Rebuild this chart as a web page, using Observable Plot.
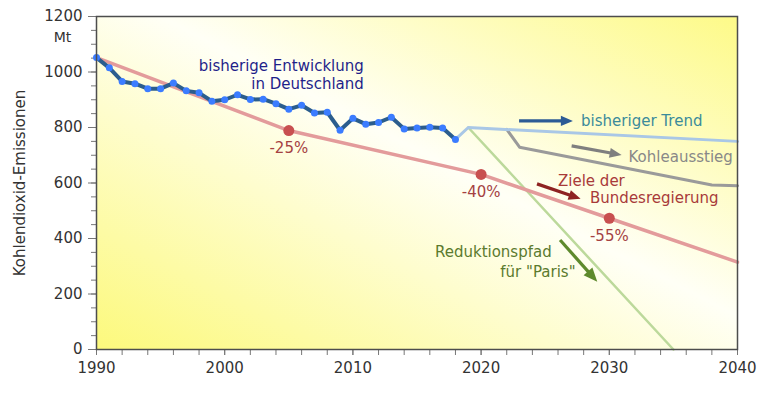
<!DOCTYPE html>
<html>
<head>
<meta charset="utf-8">
<script src="https://cdn.jsdelivr.net/npm/d3@7"></script>
<script src="https://cdn.jsdelivr.net/npm/@observablehq/plot@0.6"></script>
<style>
  html, body { margin: 0; padding: 0; background: #fff; }
</style>
</head>
<body>
<div id="chart"></div>
<script>
// historical CO2 emissions Germany (Mt)
const histYears = [1990,1991,1992,1993,1994,1995,1996,1997,1998,1999,2000,2001,2002,2003,2004,2005,2006,2007,2008,2009,2010,2011,2012,2013,2014,2015,2016,2017,2018];
const histValues = [1052,1015,966,958,940,940,960,932,925,895,900,918,901,902,886,866,880,852,855,790,833,812,818,837,795,798,801,798,757];

// targets of the federal government
const targetYears = [1990, 2005, 2020, 2030, 2040];
const targetValues = [1052, 789, 631, 473, 315];
const goalYears = [2005, 2020, 2030];
const goalValues = [789, 631, 473];
const goalLabels = ["-25%", "-40%", "-55%"];

// previous trend
const trendYears = [2018, 2019, 2040];
const trendValues = [757, 800, 750];

// coal exit
const coalYears = [2022, 2023, 2038, 2040];
const coalValues = [793, 729, 593, 590];

// Paris reduction path
const parisYears = [2019, 2035];
const parisValues = [800, 0];

// axis ticks
const xTickLabels = [1990, 2000, 2010, 2020, 2030, 2040];
const yTickLabels = [0, 200, 400, 600, 800, 1000, 1200];

const zip = (xs, ys) => xs.map((x, i) => ({x, y: ys[i]}));
const hist = zip(histYears, histValues);
const target = zip(targetYears, targetValues);
const goals = goalYears.map((x, i) => ({x, y: goalValues[i], label: goalLabels[i]}));
const trend = zip(trendYears, trendValues);
const coal = zip(coalYears, coalValues);
const paris = zip(parisYears, parisValues);

// annotation texts (data coordinates)
const notes = [
  {x: 2010.85, y: 1022, text: "bisherige Entwicklung", fill: "#1f1f8a", anchor: "end"},
  {x: 2010.85, y: 955, text: "in Deutschland", fill: "#1f1f8a", anchor: "end"},
  {x: 2027.8, y: 822, text: "bisheriger Trend", fill: "#3b8b9b", anchor: "start"},
  {x: 2031.5, y: 692, text: "Kohleausstieg", fill: "#888888", anchor: "start"},
  {x: 2026.0, y: 605, text: "Ziele der", fill: "#a83a3a", anchor: "start"},
  {x: 2028.5, y: 544, text: "Bundesregierung", fill: "#a83a3a", anchor: "start"},
  {x: 2016.4, y: 350, text: "Reduktionspfad", fill: "#5b7a2e", anchor: "start"},
  {x: 2021.5, y: 277, text: "für \"Paris\"", fill: "#5b7a2e", anchor: "start"}
];
const arrows = [
  {x1: 2023.0, y1: 822, x2: 2027.2, y2: 822, stroke: "#2c5b95", head: 12},
  {x1: 2027.1, y1: 732, x2: 2031.0, y2: 699, stroke: "#7f7f7f", head: 12},
  {x1: 2024.4, y1: 595, x2: 2027.8, y2: 541, stroke: "#8e2222", head: 12},
  {x1: 2026.2, y1: 393, x2: 2029.1, y2: 242, stroke: "#5e8a2c", head: 14}
];

// render function mark: arrows with filled heads, positioned via the plot's scales
function filledArrows(index, scales) {
  const g = d3.create("svg:g");
  for (const a of arrows) {
    const x1 = scales.x(a.x1), y1 = scales.y(a.y1);
    const x2 = scales.x(a.x2), y2 = scales.y(a.y2);
    const ang = Math.atan2(y2 - y1, x2 - x1);
    const c = Math.cos(ang), s = Math.sin(ang);
    const hl = a.head, hw = a.head * 0.42;
    const bx = x2 - hl * c, by = y2 - hl * s;
    g.append("line")
      .attr("x1", x1).attr("y1", y1).attr("x2", bx + c).attr("y2", by + s)
      .attr("stroke", a.stroke).attr("stroke-width", 3.2);
    g.append("path")
      .attr("d", `M${x2},${y2}L${bx - hw * s},${by + hw * c}L${bx + hw * s},${by - hw * c}Z`)
      .attr("fill", a.stroke);
  }
  return g.node();
}

const chart = Plot.plot({
  width: 780,
  height: 398,
  marginLeft: 96,
  marginRight: 43,
  marginTop: 16,
  marginBottom: 49,
  style: {fontFamily: "DejaVu Sans, Verdana, sans-serif", fontSize: "15px", background: "white", color: "#333"},
  x: {domain: [1990, 2040], label: null},
  y: {domain: [0, 1200], label: null},
  marks: [
    Plot.frame({fill: "url(#bgGrad)"}),
    // minor ticks
    Plot.axisY({ticks: d3.range(0, 1201, 50), tickSize: 5, text: null, label: null, stroke: "#777"}),
    Plot.axisY({ticks: yTickLabels, tickSize: 8, tickPadding: 6, tickFormat: d => String(d), label: null, stroke: "#777", fill: "#333", fontSize: 15}),
    Plot.axisX({ticks: d3.range(1990, 2041, 2), tickSize: 6, text: null, label: null, stroke: "#777"}),
    Plot.axisX({ticks: xTickLabels, tickSize: 6, tickPadding: 7, tickFormat: d => String(d), label: null, stroke: "#777", fill: "#333", fontSize: 15}),
    // lines
    Plot.line(paris, {x: "x", y: "y", stroke: "#bcd99b", strokeWidth: 2.5}),
    Plot.line(target, {x: "x", y: "y", stroke: "#e39b9b", strokeWidth: 3.5}),
    Plot.line(coal, {x: "x", y: "y", stroke: "#9a9a9a", strokeWidth: 3}),
    Plot.line(trend, {x: "x", y: "y", stroke: "#a9c7e6", strokeWidth: 3}),
    Plot.line(hist, {x: "x", y: "y", stroke: "#2b5d8d", strokeWidth: 4}),
    Plot.dot(hist, {x: "x", y: "y", r: 3.5, fill: "#3b7cff", stroke: "none"}),
    Plot.dot(goals, {x: "x", y: "y", r: 5.5, fill: "#c85050", stroke: "none"}),
    Plot.text(goals, {x: "x", y: "y", text: "label", dy: 18, fill: "#a54242", fontSize: 15}),
    // arrows
    filledArrows,
    // annotations
    Plot.text(notes.filter(d => d.anchor === "end"), {x: "x", y: "y", text: "text", fill: d => d.fill, textAnchor: "end", fontSize: 15}),
    Plot.text(notes.filter(d => d.anchor === "start"), {x: "x", y: "y", text: "text", fill: d => d.fill, textAnchor: "start", fontSize: 15}),
    // unit & axis title
    Plot.text(["Mt"], {x: () => 1990, y: () => 1200, text: d => d, dx: -34, dy: 21, fill: "#333", fontSize: 14}),
    Plot.text(["Kohlendioxid-Emissionen"], {frameAnchor: "left", text: d => d, rotate: -90, dx: -76, textAnchor: "middle", fill: "#333", fontSize: 15}),
    Plot.frame({stroke: "#4d4d4d", strokeWidth: 1.5})
  ]
});

const svg = d3.select(chart);
const defs = svg.insert("defs", ":first-child");
const grad = defs.append("linearGradient")
  .attr("id", "bgGrad")
  .attr("x1", 0).attr("y1", 1).attr("x2", 1).attr("y2", 0);
grad.append("stop").attr("offset", "0%").attr("stop-color", "#fcf97c");
grad.append("stop").attr("offset", "55%").attr("stop-color", "#fffff6");
grad.append("stop").attr("offset", "100%").attr("stop-color", "#fdfa88");

document.getElementById("chart").appendChild(chart);
</script>
</body>
</html>
